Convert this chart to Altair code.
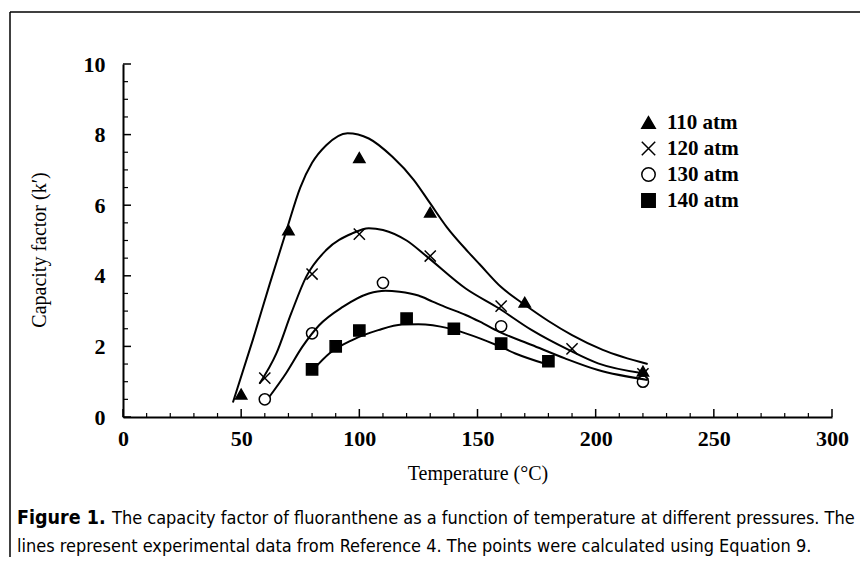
import altair as alt
import pandas as pd

# ---------------- data ----------------
series_names = ["110 atm", "120 atm", "130 atm", "140 atm"]

# experimental curves (lines)
curve_110_T = [46.5, 55, 62, 69, 75, 80, 86, 95, 104, 114, 123, 130, 137, 146, 151, 160, 170, 180, 190, 203, 222]
curve_110_k = [0.41, 2.2, 3.75, 5.25, 6.5, 7.2, 7.7, 8.04, 7.89, 7.37, 6.72, 6.05, 5.38, 4.68, 4.32, 3.68, 3.18, 2.72, 2.32, 1.9, 1.5]

curve_120_T = [57.8, 64.9, 71.2, 77.5, 86, 97, 104, 110, 120, 128.5, 145, 159, 173, 188.6, 201, 220]
curve_120_k = [0.95, 1.8, 2.94, 3.97, 4.73, 5.2, 5.35, 5.3, 5.0, 4.55, 3.64, 3.08, 2.46, 1.9, 1.52, 1.24]

curve_130_T = [62, 69, 76, 83, 93, 104, 111, 117, 125, 131, 137, 145, 151, 159, 173, 187, 201, 222]
curve_130_k = [0.58, 1.24, 2.0, 2.6, 3.12, 3.5, 3.58, 3.55, 3.44, 3.27, 3.1, 2.89, 2.7, 2.42, 2.04, 1.66, 1.33, 1.05]

curve_140_T = [81, 87.3, 97, 108, 118, 125, 138, 145, 158, 166, 179]
curve_140_k = [1.38, 1.8, 2.18, 2.46, 2.62, 2.63, 2.51, 2.37, 2.04, 1.8, 1.5]

# calculated points (markers)
pts_110_T = [50, 70, 100, 130, 170, 220]
pts_110_k = [0.65, 5.3, 7.35, 5.8, 3.25, 1.3]
pts_120_T = [60, 80, 100, 130, 160, 190, 220]
pts_120_k = [1.1, 4.05, 5.18, 4.56, 3.14, 1.93, 1.22]
pts_130_T = [60, 80, 110, 160, 220]
pts_130_k = [0.5, 2.37, 3.8, 2.57, 1.0]
pts_140_T = [80, 90, 100, 120, 140, 160, 180]
pts_140_k = [1.35, 2.0, 2.45, 2.79, 2.5, 2.08, 1.58]

x_labels = [0, 50, 100, 150, 200, 250, 300]
x_minor = [t for t in range(0, 301, 10) if t % 50 != 0]
y_labels = [0, 2, 4, 6, 8, 10]
y_minor = [v / 2 for v in range(1, 20) if v % 4 != 0]

x_title = "Temperature (°C)"
y_title = "Capacity factor (k′)"
caption_bold = "Figure 1."
caption_1 = "The capacity factor of fluoranthene as a function of temperature at different pressures. The"
caption_2 = "lines represent experimental data from Reference 4. The points were calculated using Equation 9."

# ---------------- tables ----------------
def table(names, Ts, ks):
    rows = []
    for n, T, k in zip(names, Ts, ks):
        rows += [{"series": n, "T": a, "k": b} for a, b in zip(T, k)]
    return pd.DataFrame(rows)

curves = table(series_names, [curve_110_T, curve_120_T, curve_130_T, curve_140_T],
               [curve_110_k, curve_120_k, curve_130_k, curve_140_k])
points = table(series_names, [pts_110_T, pts_120_T, pts_130_T, pts_140_T],
               [pts_110_k, pts_120_k, pts_130_k, pts_140_k])

W, H = 709, 353
SERIF = "Liberation Serif, Times New Roman, serif"
NARROW = "Liberation Sans Narrow, DejaVu Sans Condensed, sans-serif"
CAP = 18
one = pd.DataFrame({"a": [0]})

xscale = alt.Scale(domain=[0, 300], nice=False)
yscale = alt.Scale(domain=[0, 10], nice=False)

x_axis = alt.Axis(values=x_labels, ticks=False, grid=False, domainColor="black", domainWidth=2,
                  labelFont=SERIF, labelFontSize=22, labelFontWeight="bold", labelColor="black",
                  labelPadding=11, labelFlush=False, title=x_title, titleFont=SERIF,
                  titleFontSize=20, titleFontWeight="normal", titleColor="black", titlePadding=14)
y_axis = alt.Axis(values=y_labels, ticks=False, grid=False, domainColor="black", domainWidth=2,
                  labelFont=SERIF, labelFontSize=22, labelFontWeight="bold", labelColor="black",
                  labelPadding=18, labelFlush=False, title=None)

lines = alt.Chart(curves).mark_line(color="black", strokeWidth=2, interpolate="monotone").encode(
    x=alt.X("T:Q", scale=xscale, axis=x_axis),
    y=alt.Y("k:Q", scale=yscale, axis=y_axis),
    detail="series:N",
)

legend = alt.Legend(orient="none", legendX=515, legendY=48, title=None, labelFont=SERIF,
                    labelFontSize=21, labelFontWeight="bold", labelColor="black", symbolSize=180,
                    symbolStrokeColor="black", symbolStrokeWidth=1.5, labelOffset=8,
                    rowPadding=4, padding=0)
shapes = ["triangle-up", "M-1,-1L1,1M-1,1L1,-1", "circle", "square"]
fills = ["black", "black", "transparent", "black"]
strokes = ["black", "black", "black", "black"]

marks = alt.Chart(points).mark_point(strokeWidth=1.5, opacity=1, size=125).encode(
    x="T:Q",
    y="k:Q",
    shape=alt.Shape("series:N", scale=alt.Scale(domain=series_names, range=shapes), legend=legend),
    fill=alt.Fill("series:N", scale=alt.Scale(domain=series_names, range=fills), legend=legend),
    stroke=alt.Stroke("series:N", scale=alt.Scale(domain=series_names, range=strokes), legend=legend),
)

xt_major = alt.Chart(pd.DataFrame({"T": x_labels})).mark_rule(color="black", strokeWidth=1.5).encode(
    x="T:Q", y=alt.value(H), y2=alt.value(H - 8))
xt_minor = alt.Chart(pd.DataFrame({"T": x_minor})).mark_rule(color="black", strokeWidth=1.2).encode(
    x="T:Q", y=alt.value(H), y2=alt.value(H - 4))
yt_major = alt.Chart(pd.DataFrame({"k": y_labels})).mark_rule(color="black", strokeWidth=1.5).encode(
    y="k:Q", x=alt.value(0), x2=alt.value(8))
yt_minor = alt.Chart(pd.DataFrame({"k": y_minor})).mark_rule(color="black", strokeWidth=1.2).encode(
    y="k:Q", x=alt.value(0), x2=alt.value(5))

ytitle = alt.Chart(one).mark_text(text=y_title, angle=270, font=SERIF, fontSize=20, color="black",
                                  align="center", baseline="middle").encode(
    x=alt.value(-83), y=alt.value(186))

cap_b = alt.Chart(one).mark_text(text=caption_bold, font=NARROW, fontSize=19.5, fontWeight="bold",
                                 color="black", align="left", baseline="alphabetic").encode(
    x=alt.value(-106), y=alt.value(460))
cap_1 = alt.Chart(one).mark_text(text=caption_1, font=NARROW, fontSize=CAP, color="black",
                                 align="left", baseline="alphabetic").encode(
    x=alt.value(-11), y=alt.value(460))
cap_2 = alt.Chart(one).mark_text(text=caption_2, font=NARROW, fontSize=CAP, color="black",
                                 align="left", baseline="alphabetic").encode(
    x=alt.value(-106), y=alt.value(488))

frame_top = alt.Chart(one).mark_rule(color="black", strokeWidth=1.5).encode(
    x=alt.value(-113), x2=alt.value(737), y=alt.value(-52))
frame_left = alt.Chart(one).mark_rule(color="black", strokeWidth=1.5).encode(
    x=alt.value(-113), y=alt.value(-52), y2=alt.value(493))

chart = alt.layer(
    lines, xt_major, xt_minor, yt_major, yt_minor, marks, ytitle, cap_b, cap_1, cap_2,
    frame_top, frame_left,
).properties(
    width=W, height=H,
    autosize=alt.AutoSizeParams(type="none"),
    padding={"left": 115, "top": 56, "right": 28, "bottom": 140},
    background="white",
).configure_view(stroke=None)

chart.save("out.html", embed_options={"renderer": "svg", "actions": False})
